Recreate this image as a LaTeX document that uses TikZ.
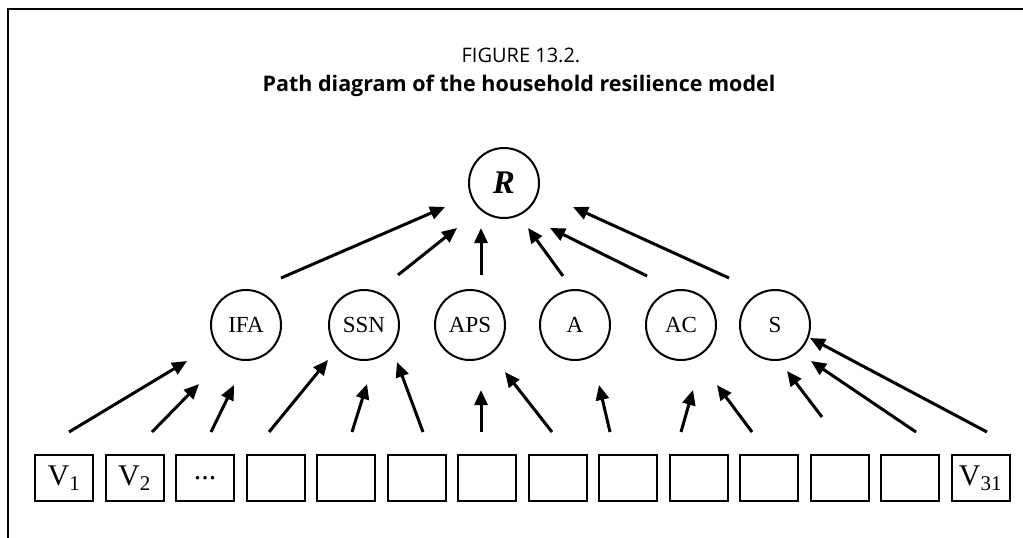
\documentclass[tikz,border=0pt]{standalone}
\usepackage{fontspec}
\setmainfont{Liberation Serif}
\newfontfamily\headfont{Open Sans}
\usetikzlibrary{arrows.meta,positioning}

\begin{document}
\begin{tikzpicture}[x=1pt,y=-1pt,>={Triangle[length=15pt,width=13pt]},node distance=10.5pt]
 \tikzstyle{latent}=[circle,draw,line width=2pt,minimum size=70pt,inner sep=0pt,font=\fontsize{23}{25}\selectfont]
 \tikzstyle{observed}=[rectangle,draw,line width=2pt,minimum width=58pt,minimum height=46pt,inner sep=0pt,font=\fontsize{30}{32}\selectfont]
 \tikzstyle{link}=[->,line width=3pt]
 \tikzstyle{caption}=[anchor=base,inner sep=0pt,font=\headfont\fontsize{20}{22}\selectfont]

   \useasboundingbox (0,0) rectangle (1023,538);
   \draw[line width=1.2pt] (8,545) -- (8,9) -- (1030,9);

   \node[caption] (fig) at (521,62) {FIGURE 13.2.};
   \node[caption,font=\headfont\bfseries\fontsize{21.5}{23}\selectfont] (title) at (519,91) {Path diagram of the household resilience model};

   \node[latent,font=\fontsize{33}{35}\selectfont] (R) at (504,183) {\textbf{\textit{R}}};
   \node[latent] (IFA) at (246,325) {IFA};
   \node[latent] (SSN) at (364,325) {SSN};
   \node[latent] (APS) at (470,325) {APS};
   \node[latent] (A) at (575,325) {A};
   \node[latent] (AC) at (681,325) {AC};
   \node[latent] (S) at (775,325) {S};

   \node[observed] (v1) at (64,478) {V\textsubscript{1}};
   \node[observed,right=of v1] (v2) {V\textsubscript{2}};
   \node[observed,right=of v2] (v3) {...};
   \foreach \i [count=\j from 3] in {4,...,13}
     \node[observed,right=of v\j] (v\i) {};
   \node[observed,right=of v13] (v14) {V\textsubscript{31}};

   % indicators -> factors
   \path[link]
   ([shift={(5,-22)}]v1.north) edge ([shift={(-59,36)}]IFA.center)
   ([shift={(17.5,-22)}]v2.north) edge ([shift={(-47,59)}]IFA.center)
   ([shift={(6,-22)}]v3.north) edge ([shift={(-12,60)}]IFA.center)
   ([shift={(-6.5,-22)}]v4.north) edge ([shift={(-36,35)}]SSN.center)
   ([shift={(6,-22)}]v5.north) edge ([shift={(3,59)}]SSN.center)
   ([shift={(6.5,-22)}]v6.north) edge ([shift={(33,37)}]SSN.center)
   ([shift={(-6,-22)}]v7.north) edge ([shift={(11,65)}]APS.center)
   ([shift={(-5.5,-22)}]v8.north) edge ([shift={(35,47)}]APS.center)
   ([shift={(-18,-22)}]v9.north) edge ([shift={(24,60)}]A.center)
   ([shift={(-17.5,-22)}]v10.north) edge ([shift={(12,65)}]AC.center)
   ([shift={(-17,-22)}]v11.north) edge ([shift={(36,60)}]AC.center)
   ([shift={(-17.5,-37)}]v12.north) edge ([shift={(12,46)}]S.center)
   ([shift={(6,-22)}]v13.north) edge ([shift={(36,36)}]S.center)
   ([shift={(6.5,-22)}]v14.north) edge ([shift={(35,13)}]S.center);

   % factors -> R
   \path[link]
   ([shift={(35,-47)}]IFA.center) edge ([shift={(-59,24)}]R.center)
   ([shift={(34,-50)}]SSN.center) edge ([shift={(-47,45)}]R.center)
   ([shift={(11,-50)}]APS.center) edge ([shift={(-23,45)}]R.center)
   ([shift={(-12,-49)}]A.center) edge ([shift={(24,45)}]R.center)
   ([shift={(-34,-49)}]AC.center) edge ([shift={(46,45)}]R.center)
   ([shift={(-46,-47)}]S.center) edge ([shift={(69,24)}]R.center);

\end{tikzpicture}
\end{document}
